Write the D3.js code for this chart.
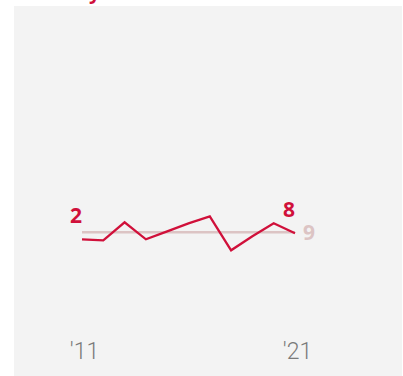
<!DOCTYPE html>
<html>
<head>
<meta charset="utf-8">
<script src="https://cdn.jsdelivr.net/npm/d3@7"></script>
<style>
  html, body { margin: 0; padding: 0; background: #ffffff; }
  svg { display: block; }
</style>
</head>
<body>
<svg id="chart" width="403" height="376"></svg>
<script>
// Yearly series, 2011–2021
const years = [2011, 2012, 2013, 2014, 2015, 2016, 2017, 2018, 2019, 2020, 2021];
const values = [2, 1, 19, 2, 10, 18, 25, -9, 5, 18, 8];
// Benchmark level drawn as a flat line
const benchmark = 9;
const tickYears = [2011, 2021];
const tickLabels = ["'11", "'21"];
const title = "Turkey";

const W = 403, H = 376;
const red = "#d0103a";
const pale = "#dcc4c4";

const svg = d3.select("#chart");

// Title sits mostly above the visible area
svg.append("text")
  .attr("x", 31)
  .attr("y", -1.5)
  .attr("font-family", "'Open Sans', sans-serif")
  .attr("font-weight", 700)
  .attr("font-size", 20)
  .attr("fill", red)
  .text(title);

// Panel background
svg.append("rect")
  .attr("x", 14).attr("y", 6)
  .attr("width", 388).attr("height", H - 6)
  .attr("fill", "#f3f3f3");

const x = d3.scaleLinear()
  .domain([2011, 2021])
  .range([82, 295]);

const y = d3.scaleLinear()
  .domain([-120, 120])
  .range([361.3, 121.3]);

// Benchmark line
svg.append("line")
  .attr("x1", x(years[0]))
  .attr("x2", x(years[years.length - 1]))
  .attr("y1", y(benchmark))
  .attr("y2", y(benchmark))
  .attr("stroke", pale)
  .attr("stroke-width", 2.5);

// Series line
const line = d3.line()
  .x((d, i) => x(years[i]))
  .y(d => y(d));

svg.append("path")
  .datum(values)
  .attr("d", line)
  .attr("fill", "none")
  .attr("stroke", red)
  .attr("stroke-width", 2.3)
  .attr("stroke-linejoin", "miter");

// First and last value labels
const labelFont = "'Open Sans', sans-serif";
[[years[0], values[0]], [years[years.length - 1], values[values.length - 1]]].forEach(([yr, v]) => {
  svg.append("text")
    .attr("x", x(yr))
    .attr("y", y(v) - 16.5)
    .attr("text-anchor", "end")
    .attr("font-family", labelFont)
    .attr("font-weight", 700)
    .attr("font-size", 21)
    .attr("fill", red)
    .text(v);
});

// Benchmark label
svg.append("text")
  .attr("x", x(years[years.length - 1]) + 8)
  .attr("y", y(benchmark) + 7.5)
  .attr("font-family", labelFont)
  .attr("font-weight", 700)
  .attr("font-size", 21)
  .attr("fill", pale)
  .text(benchmark);

// Year axis labels
const axis = d3.axisBottom(x)
  .tickValues(tickYears)
  .tickFormat((d, i) => tickLabels[i])
  .tickSize(0);

const gAxis = svg.append("g")
  .attr("transform", "translate(2,340)")
  .call(axis);
gAxis.select(".domain").remove();
gAxis.selectAll("text")
  .attr("font-family", "Roboto, sans-serif")
  .attr("font-weight", 300)
  .attr("font-size", 23)
  .attr("fill", "#7a7a7a");
</script>
</body>
</html>
